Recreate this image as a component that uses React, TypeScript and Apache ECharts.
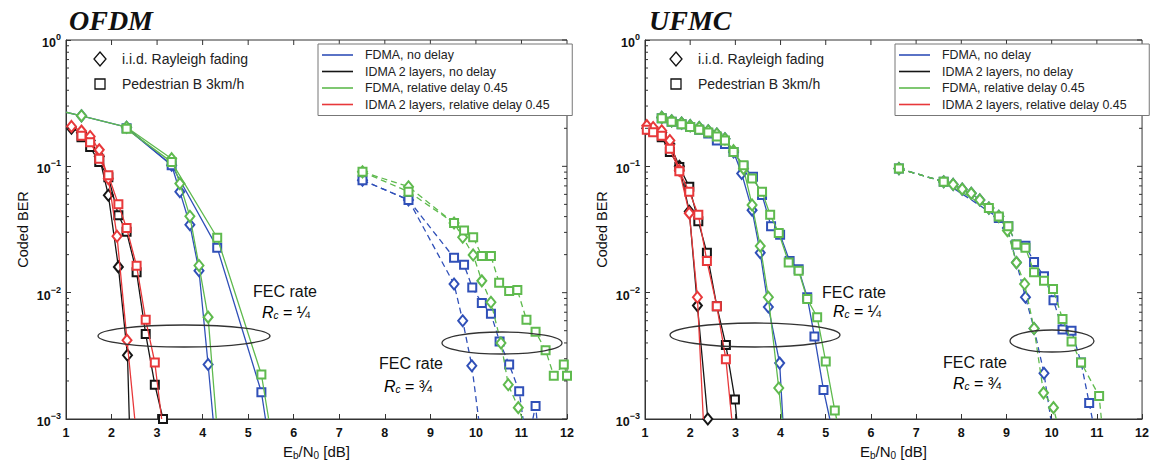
import React, { useEffect, useRef } from 'react';
import * as echarts from 'echarts';

const FONT = 'Liberation Sans, Arial, sans-serif';
const BLUE = '#3050b8';
const BLACK = '#151515';
const GREEN = '#5fba4e';
const RED = '#e8383a';

const SERIES_NAMES = [
  'FDMA, no delay',
  'IDMA 2 layers, no delay',
  'FDMA, relative delay 0.45',
  'IDMA 2 layers, relative delay 0.45',
];
const SERIES_COLORS = [BLUE, BLACK, GREEN, RED];
const PANEL_TITLES = ['OFDM', 'UFMC'];
const X_TICKS = [1, 2, 3, 4, 5, 6, 7, 8, 9, 10, 11, 12];
const MARKER_LEGEND = ['i.i.d. Rayleigh fading', 'Pedestrian B 3km/h'];

// ---------- OFDM, FEC rate 1/4 ----------
const ofdmFdmaNoDelayIid = [[1.0, 0.268], [1.34, 0.251], [2.33, 0.204], [3.32, 0.102], [3.5, 0.063], [3.72, 0.0345], [3.92, 0.0149], [4.12, 0.0027], [4.23, 0.001]];
const ofdmFdmaDelayIid = [[1.0, 0.268], [1.34, 0.251], [2.33, 0.204], [3.32, 0.115], [3.5, 0.073], [3.72, 0.0402], [3.92, 0.0164], [4.12, 0.0064], [4.3, 0.001]];
const ofdmFdmaNoDelayPed = [[2.33, 0.2], [3.32, 0.102], [4.32, 0.0227], [5.29, 0.00163], [5.38, 0.001]];
const ofdmFdmaDelayPed = [[2.33, 0.198], [3.32, 0.108], [4.32, 0.0272], [5.29, 0.00225], [5.45, 0.001]];
const ofdmIdmaNoDelayIid = [[1.12, 0.2], [1.34, 0.185], [1.53, 0.16], [1.73, 0.12], [1.93, 0.059], [2.15, 0.016], [2.35, 0.0032], [2.39, 0.001]];
const ofdmIdmaDelayIid = [[1.12, 0.207], [1.34, 0.19], [1.53, 0.172], [1.73, 0.135], [1.93, 0.08], [2.12, 0.028], [2.34, 0.0042], [2.51, 0.001]];
const ofdmIdmaNoDelayPed = [[1.34, 0.17], [1.53, 0.142], [1.73, 0.108], [1.93, 0.082], [2.15, 0.041], [2.33, 0.0303], [2.55, 0.0145], [2.75, 0.0047], [2.95, 0.00187], [3.13, 0.001]];
const ofdmIdmaDelayPed = [[1.34, 0.175], [1.53, 0.155], [1.73, 0.115], [1.93, 0.085], [2.15, 0.05], [2.33, 0.0325], [2.55, 0.0163], [2.75, 0.0061], [2.95, 0.0028], [3.1, 0.001]];
// ---------- OFDM, FEC rate 3/4 ----------
const ofdm34FdmaNoDelayIid = [[7.51, 0.0777], [8.52, 0.0542], [9.52, 0.0117], [9.71, 0.006], [9.91, 0.00264], [10.06, 0.001]];
const ofdm34FdmaDelayIid = [[7.51, 0.0904], [8.52, 0.069], [9.52, 0.0356], [9.71, 0.0275], [9.94, 0.0199], [10.13, 0.0124], [10.33, 0.0084], [10.55, 0.004], [10.71, 0.00187], [10.93, 0.00123], [11.02, 0.001]];
const ofdm34FdmaNoDelayPed = [[7.51, 0.0777], [8.52, 0.0542], [9.52, 0.0189], [9.74, 0.0166], [9.92, 0.011], [10.13, 0.0083], [10.33, 0.0068], [10.52, 0.0041], [10.73, 0.0027], [10.95, 0.00166], [11.12, 0.0006], [11.31, 0.00127], [11.4, 0.0006]];
const ofdm34FdmaDelayPed = [[7.51, 0.0904], [8.52, 0.063], [9.52, 0.0356], [9.74, 0.031], [9.94, 0.0275], [10.13, 0.0195], [10.33, 0.0195], [10.51, 0.012], [10.73, 0.0103], [10.91, 0.0105], [11.11, 0.0061], [11.31, 0.0049], [11.53, 0.0035], [11.71, 0.0022], [11.93, 0.0027], [12.0, 0.0022]];

// ---------- UFMC, FEC rate 1/4 ----------
const ufmcFdmaNoDelayIid = [[1.37, 0.244], [1.59, 0.229], [1.81, 0.22], [2.0, 0.21], [2.2, 0.203], [2.4, 0.191], [2.59, 0.18], [2.77, 0.165], [2.96, 0.13], [3.14, 0.0877], [3.37, 0.045], [3.55, 0.0207], [3.73, 0.0077], [3.98, 0.00277], [4.05, 0.001]];
const ufmcFdmaDelayIid = [[1.37, 0.244], [1.59, 0.229], [1.81, 0.22], [2.0, 0.21], [2.2, 0.203], [2.4, 0.191], [2.59, 0.18], [2.77, 0.165], [2.96, 0.133], [3.18, 0.096], [3.37, 0.0495], [3.55, 0.0234], [3.73, 0.0092], [3.96, 0.00176], [4.03, 0.001]];
const ufmcFdmaNoDelayPed = [[1.37, 0.24], [1.59, 0.225], [1.81, 0.215], [2.0, 0.205], [2.2, 0.195], [2.4, 0.182], [2.59, 0.16], [2.77, 0.15], [2.96, 0.13], [3.18, 0.1], [3.39, 0.0826], [3.59, 0.0593], [3.79, 0.0335], [3.99, 0.0288], [4.2, 0.0178], [4.4, 0.0153], [4.59, 0.0092], [4.75, 0.0045], [4.95, 0.0017], [5.09, 0.001]];
const ufmcFdmaDelayPed = [[1.37, 0.24], [1.59, 0.225], [1.81, 0.215], [2.0, 0.205], [2.2, 0.195], [2.4, 0.185], [2.59, 0.172], [2.77, 0.16], [2.96, 0.13], [3.18, 0.102], [3.37, 0.08], [3.59, 0.063], [3.77, 0.0414], [3.96, 0.0297], [4.18, 0.0173], [4.4, 0.0149], [4.59, 0.0089], [4.81, 0.0064], [5.0, 0.00285], [5.2, 0.00117], [5.24, 0.001]];
const ufmcIdmaNoDelayIid = [[1.04, 0.2], [1.18, 0.195], [1.37, 0.185], [1.55, 0.15], [1.76, 0.1], [1.98, 0.044], [2.16, 0.0079], [2.39, 0.001]];
const ufmcIdmaDelayIid = [[1.04, 0.21], [1.18, 0.203], [1.37, 0.191], [1.55, 0.16], [1.76, 0.093], [1.98, 0.0426], [2.16, 0.0092], [2.29, 0.001]];
const ufmcIdmaNoDelayPed = [[1.18, 0.19], [1.37, 0.17], [1.55, 0.13], [1.76, 0.099], [1.98, 0.069], [2.18, 0.0367], [2.37, 0.0207], [2.59, 0.0078], [2.79, 0.00385], [2.99, 0.00143], [3.03, 0.001]];
const ufmcIdmaDelayPed = [[1.04, 0.195], [1.18, 0.186], [1.37, 0.175], [1.55, 0.138], [1.76, 0.0914], [1.98, 0.063], [2.18, 0.0414], [2.37, 0.0178], [2.59, 0.0078], [2.79, 0.00297], [2.92, 0.001]];
// ---------- UFMC, FEC rate 3/4 ----------
const ufmc34FdmaNoDelayIid = [[6.62, 0.096], [7.61, 0.0755], [7.82, 0.0719], [8.02, 0.066], [8.22, 0.0611], [8.41, 0.0542], [8.61, 0.0467], [8.83, 0.0402], [9.02, 0.0325], [9.22, 0.0173], [9.42, 0.0092], [9.61, 0.0052], [9.83, 0.0023], [9.98, 0.001]];
const ufmc34FdmaDelayIid = [[6.62, 0.096], [7.61, 0.0755], [7.82, 0.0719], [8.02, 0.066], [8.22, 0.0611], [8.41, 0.0542], [8.61, 0.0467], [8.83, 0.0402], [9.02, 0.031], [9.22, 0.0173], [9.4, 0.0117], [9.61, 0.0052], [9.82, 0.00161], [10.04, 0.00123], [10.1, 0.001]];
const ufmc34FdmaNoDelayPed = [[6.62, 0.096], [7.61, 0.0755], [8.83, 0.039], [9.04, 0.0335], [9.22, 0.0241], [9.42, 0.0235], [9.61, 0.0175], [9.83, 0.0135], [10.04, 0.0087], [10.24, 0.0051], [10.44, 0.005], [10.65, 0.0028], [10.83, 0.00134], [10.9, 0.001]];
const ufmc34FdmaDelayPed = [[6.62, 0.096], [7.61, 0.0755], [8.61, 0.0467], [8.83, 0.04], [9.04, 0.0335], [9.22, 0.0241], [9.42, 0.0227], [9.61, 0.0145], [9.83, 0.0124], [10.03, 0.0107], [10.24, 0.0062], [10.44, 0.0041], [10.65, 0.0028], [11.05, 0.00152], [11.1, 0.001]];

type Curve = { pts: number[][]; who: number; mark: 'd' | 's'; dash?: boolean; endMark?: boolean };

const PANELS: Curve[][] = [
  [
    { pts: ofdmFdmaNoDelayIid, who: 0, mark: 'd' },
    { pts: ofdmFdmaNoDelayPed, who: 0, mark: 's' },
    { pts: ofdm34FdmaNoDelayIid, who: 0, mark: 'd', dash: true },
    { pts: ofdm34FdmaNoDelayPed, who: 0, mark: 's', dash: true },
    { pts: ofdmIdmaNoDelayIid, who: 1, mark: 'd' },
    { pts: ofdmIdmaNoDelayPed, who: 1, mark: 's', endMark: true },
    { pts: ofdmFdmaDelayIid, who: 2, mark: 'd' },
    { pts: ofdmFdmaDelayPed, who: 2, mark: 's' },
    { pts: ofdm34FdmaDelayIid, who: 2, mark: 'd', dash: true },
    { pts: ofdm34FdmaDelayPed, who: 2, mark: 's', dash: true },
    { pts: ofdmIdmaDelayIid, who: 3, mark: 'd' },
    { pts: ofdmIdmaDelayPed, who: 3, mark: 's' },
  ],
  [
    { pts: ufmcFdmaNoDelayIid, who: 0, mark: 'd' },
    { pts: ufmcFdmaNoDelayPed, who: 0, mark: 's' },
    { pts: ufmc34FdmaNoDelayIid, who: 0, mark: 'd', dash: true },
    { pts: ufmc34FdmaNoDelayPed, who: 0, mark: 's', dash: true },
    { pts: ufmcIdmaNoDelayIid, who: 1, mark: 'd', endMark: true },
    { pts: ufmcIdmaNoDelayPed, who: 1, mark: 's' },
    { pts: ufmcFdmaDelayIid, who: 2, mark: 'd' },
    { pts: ufmcFdmaDelayPed, who: 2, mark: 's' },
    { pts: ufmc34FdmaDelayIid, who: 2, mark: 'd', dash: true },
    { pts: ufmc34FdmaDelayPed, who: 2, mark: 's', dash: true },
    { pts: ufmcIdmaDelayIid, who: 3, mark: 'd' },
    { pts: ufmcIdmaDelayPed, who: 3, mark: 's' },
  ],
];

const GRIDS = [
  { left: 66, top: 40, width: 501, height: 384 },
  { left: 645, top: 40, width: 498, height: 384 },
];

function buildSeries(panel: Curve[], gi: number) {
  return panel.map((c) => {
    const data = c.pts.map((p, i) => {
      const last = i === c.pts.length - 1;
      if (last && !c.endMark && p[1] <= 0.001) return { value: p, symbol: 'none' };
      if (i === 0 && p[0] <= X_TICKS[0]) return { value: p, symbol: 'none' };
      return { value: p };
    });
    return {
      type: 'line',
      name: SERIES_NAMES[c.who],
      xAxisIndex: gi,
      yAxisIndex: gi,
      data,
      clip: true,
      symbol: c.mark === 'd' ? 'emptyDiamond' : 'emptyRect',
      symbolSize: c.mark === 'd' ? [9, 11] : [8, 8],
      showAllSymbol: true,
      color: SERIES_COLORS[c.who],
      lineStyle: { width: 1.3, type: c.dash ? [6, 4] : 'solid', color: SERIES_COLORS[c.who] },
      itemStyle: { color: SERIES_COLORS[c.who], borderWidth: 1.2 },
      z: 2 + c.who,
      silent: true,
    };
  });
}

function tickSeries(gi: number) {
  const data: number[][] = [];
  for (let e = -3; e < 0; e++) {
    for (let m = 2; m <= 9; m++) data.push([1, m * Math.pow(10, e), 0]);
  }
  for (let e = -3; e <= 0; e++) data.push([1, Math.pow(10, e), 1]);
  for (let x = 2; x <= 11; x++) data.push([x, 1, 2]);
  return {
    type: 'custom',
    xAxisIndex: gi,
    yAxisIndex: gi,
    silent: true,
    clip: false,
    z: 10,
    data,
    renderItem: (params: any, api: any) => {
      const kind = api.value(2);
      const st = { stroke: '#333', lineWidth: 1 };
      if (kind === 2) {
        const p = api.coord([api.value(0), 1]);
        return { type: 'line', shape: { x1: p[0], y1: p[1], x2: p[0], y2: p[1] + 5 }, style: st };
      }
      const v = api.value(1);
      const pl = api.coord([1, v]);
      const pr = api.coord([12, v]);
      const len = kind === 0 ? 3 : 5;
      const children: any[] = [
        { type: 'line', shape: { x1: pr[0] - len, y1: pr[1], x2: pr[0], y2: pr[1] }, style: st },
      ];
      if (kind === 0) {
        children.push({ type: 'line', shape: { x1: pl[0], y1: pl[1], x2: pl[0] + len, y2: pl[1] }, style: st });
      }
      return { type: 'group', children };
    },
  };
}

const rcRich = {
  n: { fontSize: 16, fontFamily: FONT, color: '#111' },
  i: { fontSize: 16, fontFamily: FONT, fontStyle: 'italic', color: '#111' },
  c: { fontSize: 10, fontFamily: FONT, fontStyle: 'italic', color: '#111', padding: [6, 0, 0, 0] },
};

function annotations() {
  const g: any[] = [];
  const mk = [
    { x: 100, tx: 122 },
    { x: 676, tx: 698 },
  ];
  mk.forEach((m) => {
    g.push({
      type: 'polygon',
      shape: { points: [[m.x, 52], [m.x + 6, 59], [m.x, 66], [m.x - 6, 59]] },
      style: { fill: 'none', stroke: '#111', lineWidth: 1.3 },
    });
    g.push({ type: 'text', x: m.tx, y: 59, style: { text: MARKER_LEGEND[0], fontSize: 14, fontFamily: FONT, fill: '#222', verticalAlign: 'middle' } });
    g.push({
      type: 'rect',
      shape: { x: m.x - 5, y: 79, width: 10, height: 10 },
      style: { fill: 'none', stroke: '#111', lineWidth: 1.3 },
    });
    g.push({ type: 'text', x: m.tx, y: 84, style: { text: MARKER_LEGEND[1], fontSize: 14, fontFamily: FONT, fill: '#222', verticalAlign: 'middle' } });
  });
  const ellipses = [
    { cx: 184, cy: 336, rx: 86, ry: 11 },
    { cx: 502, cy: 343, rx: 60, ry: 11 },
    { cx: 755, cy: 335, rx: 85, ry: 12 },
    { cx: 1052, cy: 341, rx: 42, ry: 11 },
  ];
  ellipses.forEach((e) => {
    g.push({ type: 'ellipse', shape: e, style: { fill: 'none', stroke: '#333', lineWidth: 1.3 }, z: 20 });
  });
  const fec = [
    { x: 253, y: 291, rx: 262, ry: 312, frac: '¼' },
    { x: 379, y: 363, rx: 384, ry: 386, frac: '¾' },
    { x: 822, y: 292, rx: 833, ry: 311, frac: '¼' },
    { x: 943, y: 362, rx: 953, ry: 383, frac: '¾' },
  ];
  fec.forEach((f) => {
    g.push({ type: 'text', x: f.x, y: f.y, style: { text: 'FEC rate', fontSize: 16, fontFamily: FONT, fill: '#111', verticalAlign: 'middle' }, z: 20 });
    g.push({
      type: 'text',
      x: f.rx,
      y: f.ry,
      style: { text: `{i|R}{c|c}{n| = ${f.frac}}`, rich: rcRich, verticalAlign: 'middle' },
      z: 20,
    });
  });
  return g;
}

function yLabel(v: number) {
  const e = Math.round(Math.log10(v));
  return `{b|10}{s|${e === 0 ? '0' : '\u2212' + -e}}`;
}

function buildOption() {
  const xAxis = GRIDS.map((_, gi) => ({
    type: 'value',
    gridIndex: gi,
    min: X_TICKS[0],
    max: X_TICKS[X_TICKS.length - 1],
    interval: 1,
    axisLine: { lineStyle: { color: '#333', width: 1 } },
    axisTick: { inside: true, length: 5, lineStyle: { color: '#333' } },
    axisLabel: { fontSize: 12.5, fontWeight: 'bold', color: '#111', fontFamily: FONT, margin: 7 },
    splitLine: { show: false },
    name: '{n|E}{s|b}{n|/N}{s|0}{n| [dB]}',
    nameLocation: 'middle',
    nameGap: 24,
    nameTextStyle: {
      rich: {
        n: { fontSize: 15, fontFamily: FONT, color: '#111' },
        s: { fontSize: 10, fontFamily: FONT, color: '#111', padding: [7, 0, 0, 0] },
      },
    },
  }));
  const yAxis = GRIDS.map((_, gi) => ({
    type: 'log',
    logBase: 10,
    gridIndex: gi,
    min: 0.001,
    max: 1,
    axisLine: { lineStyle: { color: '#333', width: 1 } },
    axisTick: { inside: true, length: 5, lineStyle: { color: '#333' } },
    axisLabel: {
      formatter: yLabel,
      margin: 5,
      rich: {
        b: { fontSize: 12.5, fontWeight: 'bold', color: '#111', fontFamily: FONT, padding: [6, 0, 0, 0] },
        s: { fontSize: 9, fontWeight: 'bold', color: '#111', fontFamily: FONT, padding: [0, 0, 6, 0] },
      },
    },
    splitLine: { show: false },
    name: 'Coded BER',
    nameLocation: 'middle',
    nameGap: 36,
    nameTextStyle: { fontSize: 14.5, fontFamily: FONT, color: '#111' },
  }));
  const legend = [
    { left: 318, top: 44 },
    { left: 895, top: 44 },
  ].map((l) => ({
    left: l.left,
    top: l.top,
    orient: 'vertical',
    data: SERIES_NAMES,
    icon: 'rect',
    itemWidth: 31,
    itemHeight: 1.6,
    itemGap: 2.5,
    padding: [4, 22, 4, 4],
    backgroundColor: '#fff',
    borderColor: '#777',
    borderWidth: 1,
    selectedMode: false,
    textStyle: { fontSize: 12.4, fontFamily: FONT, color: '#222', lineHeight: 14, padding: [0, 0, 0, 7] },
    z: 30,
  }));
  const series: any[] = [];
  PANELS.forEach((p, gi) => {
    series.push(...buildSeries(p, gi));
    series.push(tickSeries(gi));
  });
  return {
    animation: false,
    backgroundColor: '#fff',
    textStyle: { fontFamily: FONT },
    title: PANEL_TITLES.map((t, i) => ({
      text: t,
      left: i === 0 ? 64 : 644,
      top: 1,
      textStyle: { fontFamily: 'Liberation Serif, serif', fontStyle: 'italic', fontWeight: 'bold', fontSize: 28, color: '#111' },
    })),
    grid: GRIDS.map((g) => ({ ...g, show: true, borderColor: '#333', borderWidth: 1, backgroundColor: 'transparent' })),
    xAxis,
    yAxis,
    legend,
    series,
    graphic: annotations(),
  };
}

export default function App() {
  const ref = useRef<HTMLDivElement>(null);
  useEffect(() => {
    if (!ref.current) return;
    const chart = echarts.init(ref.current, null, { renderer: 'svg' });
    chart.setOption(buildOption() as any);
    return () => chart.dispose();
  }, []);
  return (
    <div
      ref={ref}
      style={{ position: 'fixed', left: 0, top: 0, width: 1152, height: 465, background: '#fff' }}
    />
  );
}
